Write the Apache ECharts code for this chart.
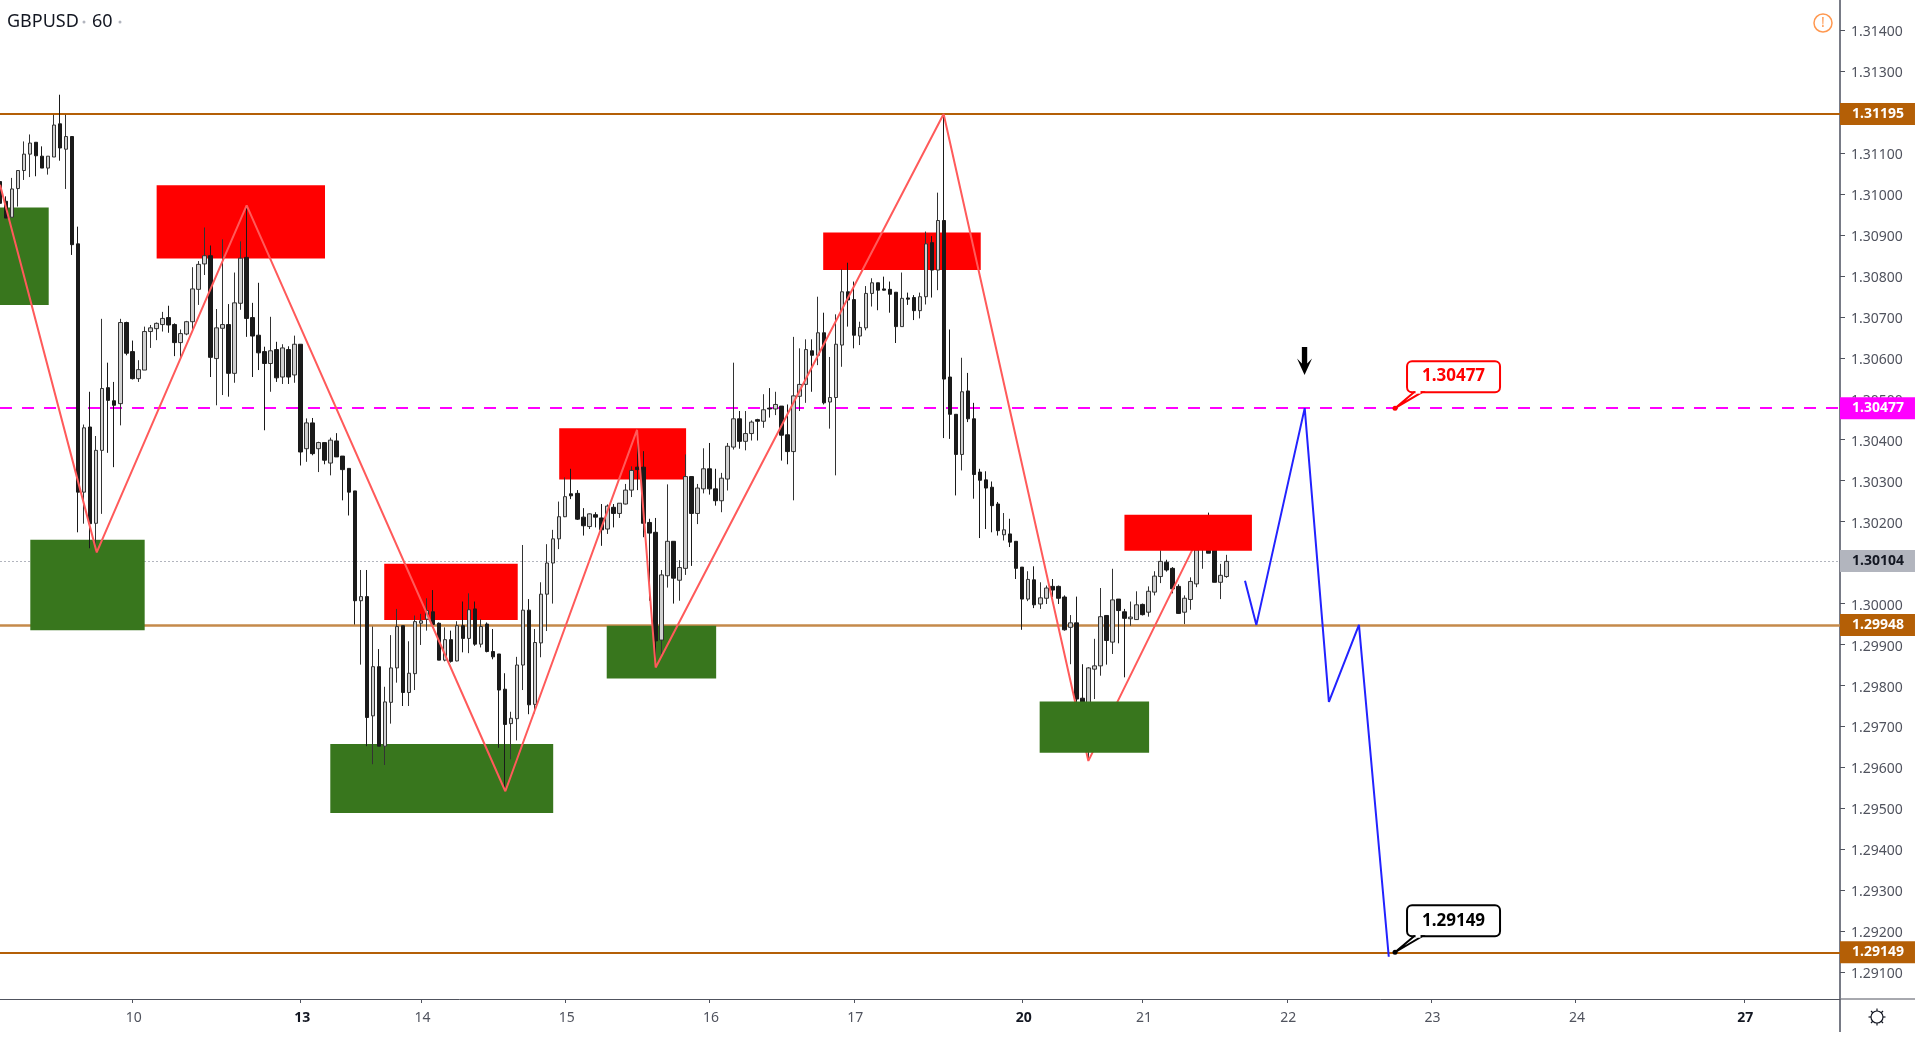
<!DOCTYPE html>
<html>
<head>
<meta charset="utf-8">
<title>GBPUSD 60</title>
<script src="https://cdn.jsdelivr.net/npm/echarts@6/dist/echarts.min.js"></script>
<style>
  html, body { margin: 0; padding: 0; background: #fff; overflow: hidden; }
  #chart { width: 1915px; height: 1039px; }
</style>
</head>
<body>
<div id="chart"></div>
<script>
// hourly candles, in points (1e-5)
var opens = [
  131030,130982,130943,131013,131057,131097,131126,131092,131063,131090,
  131171,131109,131140,130878,130272,130431,130196,130374,130527,130495,
  130488,130686,130615,130549,130570,130664,130671,130681,130698,130681,
  130637,130658,130688,130767,130829,130849,130598,130672,130681,130562,
  130733,130845,130698,130655,130615,130586,130620,130553,130620,130558,
  130633,130378,130441,130378,130393,130343,130397,130360,130330,130275,
  130007,130017,129726,129846,129652,129759,129843,129946,129783,129829,
  129952,129962,129980,129952,129862,129912,129860,129946,129915,129987,
  129901,129950,129883,129877,129791,129707,129719,129850,129984,129754,
  129904,130023,130099,130158,130212,130268,130269,130211,130188,130217,
  130209,130182,130235,130220,130243,130277,130333,130333,130198,130174,
  129911,130068,130152,130057,130086,130310,130220,130280,130329,130280,
  130251,130304,130382,130451,130396,130415,130449,130445,130477,130475,
  130482,130412,130371,130506,130535,130617,130606,130661,130492,130503,
  130631,130761,130742,130653,130673,130757,130783,130768,130767,130760,
  130676,130746,130747,130715,130749,130881,130814,130935,130553,130462,
  130364,130519,130451,130321,130302,130284,130243,130168,130170,130152,
  130089,130011,130058,129999,130013,130042,130042,130016,129942,129953,
  129769,129720,129840,129848,129971,129906,130011,129980,129963,129961,
  129998,129979,130028,130066,130101,130086,130042,129979,130010,130048,
  130140,130190,130140,130052,130066
];
var closes = [
  130977,130941,131012,131057,131097,131124,131093,131063,131092,131168,
  131112,131140,130876,130272,130429,130195,130374,130525,130496,130484,
  130686,130611,130549,130571,130664,130673,130684,130696,130680,130637,
  130659,130688,130768,130828,130849,130601,130673,130681,130562,130734,
  130843,130696,130653,130612,130586,130617,130551,130624,130553,130633,
  130370,130441,130366,130393,130350,130399,130358,130327,130272,130007,
  130017,129722,129846,129652,129760,129843,129944,129783,129830,129956,
  129958,129983,129949,129862,129912,129859,129946,129915,129985,129901,
  129944,129883,129870,129789,129705,129720,129850,129984,129753,129905,
  130023,130099,130158,130212,130261,130263,130206,130190,130219,130211,
  130180,130238,130220,130245,130277,130325,130327,130196,130172,129909,
  130070,130152,130062,130088,130310,130220,130282,130329,130280,130251,
  130306,130384,130451,130396,130415,130443,130445,130473,130475,130486,
  130411,130371,130507,130535,130620,130606,130661,130490,130503,130633,
  130761,130741,130655,130674,130757,130783,130765,130765,130755,130676,
  130745,130743,130715,130749,130878,130814,130935,130548,130462,130364,
  130517,130451,130315,130301,130282,130239,130178,130180,130150,130086,
  130011,130059,129997,130014,130038,130033,130013,129936,129953,129767,
  129745,129843,129848,129968,129910,130009,129983,129964,129967,129997,
  129973,130030,130067,130103,130082,130036,129976,130013,130054,130131,
  130180,130123,130052,130069,130103
];
var lows = [
  130970,130941,130943,130969,131034,131041,131043,131063,131047,131090,
  131081,131012,130851,130174,130195,130135,130125,130219,130368,130333,
  130435,130606,130547,130541,130570,130624,130643,130664,130661,130604,
  130602,130655,130664,130729,130802,130553,130484,130509,130505,130539,
  130717,130651,130553,130570,130423,130517,130541,130536,130536,130539,
  130337,130346,130362,130321,130340,130313,130358,130252,130215,129949,
  129851,129652,129608,129652,129606,129707,129807,129750,129750,129789,
  129899,129934,129949,129862,129859,129856,129859,129881,129879,129897,
  129893,129881,129864,129648,129542,129620,129666,129789,129730,129732,
  129869,129933,130000,130133,130211,130255,130204,130166,130182,130186,
  130141,130170,130186,130209,130242,130260,130277,130162,130007,129845,
  129876,130039,130000,130007,130070,130092,130194,130269,130266,130239,
  130223,130276,130376,130378,130374,130398,130398,130429,130454,130460,
  130349,130340,130252,130470,130490,130517,130582,130486,130427,130313,
  130578,130676,130623,130631,130667,130725,130716,130764,130710,130636,
  130676,130729,130692,130696,130730,130747,130765,130404,130402,130264,
  130325,130443,130256,130160,130182,130174,130166,130154,130138,130060,
  129936,130006,129989,129987,129999,130016,129999,129934,129852,129760,
  129735,129616,129767,129824,129851,129877,129903,129820,129946,129960,
  129971,129968,130020,130050,130078,130025,129975,129950,129985,130040,
  130085,130123,130052,130011,130063
];
var highs = [
  131034,130994,131039,131057,131128,131145,131126,131116,131092,131193,
  131242,131193,131140,130920,130437,130517,130409,130695,130588,130541,
  130695,130688,130642,130594,130676,130680,130686,130712,130727,130684,
  130669,130690,130821,130836,130918,130874,130719,130889,130731,130808,
  130884,130972,130734,130783,130627,130700,130639,130633,130628,130654,
  130633,130452,130453,130395,130393,130405,130416,130360,130330,130275,
  130082,130082,129944,129889,129797,129923,129987,129946,129908,129971,
  129975,130013,130033,129954,129942,129934,129957,130005,130025,130005,
  129962,129954,129938,129877,129830,129736,129870,130143,130011,129938,
  130052,130145,130180,130249,130308,130329,130277,130233,130220,130223,
  130243,130242,130243,130245,130292,130335,130424,130372,130207,130209,
  130082,130291,130152,130106,130364,130310,130292,130379,130392,130329,
  130319,130392,130588,130470,130470,130447,130451,130511,130526,130517,
  130482,130486,130651,130623,130645,130645,130749,130710,130602,130706,
  130816,130832,130786,130688,130775,130794,130783,130798,130786,130760,
  130808,130759,130753,130759,130908,130897,131003,131193,130669,130462,
  130600,130563,130490,130329,130323,130298,130248,130221,130207,130152,
  130089,130079,130091,130052,130044,130060,130044,130020,129972,130017,
  129852,129845,129914,130038,129971,130085,130011,129987,130005,130030,
  130000,130042,130079,130130,130107,130089,130047,130020,130064,130180,
  130200,130222,130140,130097,130119
];

var BAR_COUNT = 307; // slots on the time axis, future included
var dayBars = [22, 50, 70, 94, 118, 142, 170, 190, 214, 238, 262, 290];
var dayLabels = ['10', '13', '14', '15', '16', '17', '20', '21', '22', '23', '24', '27'];
var weekStarts = ['13', '20', '27'];

var priceTicks = [
  1.291, 1.292, 1.293, 1.294, 1.295, 1.296, 1.297, 1.298, 1.299, 1.300, 1.301, 1.302,
  1.303, 1.304, 1.305, 1.306, 1.307, 1.308, 1.309, 1.310, 1.311, 1.312, 1.313, 1.314
];

// [bar from, bar to, price low, price high]
var zonesBelow = [
  [0, 8.1, 1.30729, 1.30967, 'g'],
  [26.05, 54.05, 1.30842, 1.31021, 'r'],
  [5.04, 24.06, 1.29935, 1.30156, 'g'],
  [54.93, 92, 1.29489, 1.29657, 'g'],
  [63.9, 86.1, 1.29960, 1.30097, 'r'],
  [93, 114.1, 1.30303, 1.30428, 'r'],
  [100.9, 119.1, 1.29817, 1.29946, 'g'],
  [136.9, 163.1, 1.30814, 1.30906, 'r']
];
var zonesAbove = [
  [172.9, 191.1, 1.29636, 1.29761, 'g'],
  [187, 208.2, 1.30129, 1.30217, 'r']
];

var zigzag = [
  [0, 1.31022], [16.08, 1.30125], [41.02, 1.30972], [84.04, 1.29542], [105.94, 1.30424],
  [109.04, 1.29844], [156.93, 1.31195], [181, 1.29616], [201.06, 1.30214]
];
var projection = [
  [207.05, 1.30056], [208.94, 1.29948], [216.98, 1.30477], [221, 1.29760], [226, 1.29948], [230.96, 1.29138]
];

var resistanceLevel = 1.31195;
var pivotLevel = 1.29948;
var targetLevel = 1.29149;
var entryLevel = 1.30477;
var lastPrice = 1.30104;

var ZONE_RED = '#ff0000';
var ZONE_GREEN = '#38761d';
var TAG_BROWN = '#b45f06';
var TEXT = '#50535e';
var FONT = '"Noto Sans", sans-serif';

var candles = opens.map(function (o, i) {
  return [o / 1e5, closes[i] / 1e5, lows[i] / 1e5, highs[i] / 1e5];
});

var categories = [];
for (var i = 0; i < BAR_COUNT; i++) {
  var d = dayBars.indexOf(i);
  categories.push(d < 0 ? '' : dayLabels[d]);
}

function zoneData(list) {
  return list.map(function (z) {
    return [{
      coord: [z[0], z[3]],
      itemStyle: { color: z[4] === 'r' ? ZONE_RED : ZONE_GREEN }
    }, {
      coord: [z[1], z[2]]
    }];
  });
}

function levelLine(value, color, width, type, tagColor, tagText) {
  return {
    yAxis: value,
    lineStyle: { color: color, width: width, type: type },
    label: {
      show: true,
      position: 'end',
      distance: 0,
      formatter: value.toFixed(5),
      color: tagText,
      backgroundColor: tagColor,
      fontFamily: FONT,
      fontSize: 14,
      fontWeight: 'bold',
      padding: [5, 11, 3, 12]
    }
  };
}

// little note with a tail: the box hangs off the anchor point
function renderCallout(params, api) {
  var p = api.coord([api.value(0), api.value(1)]);
  var color = api.value(2) === 0 ? '#ff0000' : '#000000';
  var x = p[0], y = p[1];
  return {
    type: 'group',
    children: [
      { type: 'rect', shape: { x: x + 12, y: y - 47, width: 93, height: 31, r: 5 },
        style: { fill: '#fff', stroke: color, lineWidth: 2 } },
      { type: 'polygon', shape: { points: [[x, y], [x + 19, y - 16], [x + 27, y - 16]] },
        style: { fill: '#fff', stroke: color, lineWidth: 2 } },
      { type: 'line', shape: { x1: x + 20.5, y1: y - 16, x2: x + 25.5, y2: y - 16 },
        style: { stroke: '#fff', lineWidth: 3 } },
      { type: 'circle', shape: { cx: x, cy: y, r: 2.5 }, style: { fill: color } },
      { type: 'text', x: x + 58.5, y: y - 31.5,
        style: { text: api.value(1).toFixed(5), fill: color, align: 'center', verticalAlign: 'middle',
          font: 'bold 17px "Noto Sans", sans-serif' } }
    ]
  };
}

var chromeElements = [
  { type: 'text', x: 7, y: 13, style: { text: 'GBPUSD', fill: '#131722', font: '18px "Noto Sans", sans-serif' } },
  { type: 'circle', shape: { cx: 84, cy: 22, r: 1.5 }, style: { fill: '#b2b5be' } },
  { type: 'text', x: 92, y: 13, style: { text: '60', fill: '#131722', font: '18px "Noto Sans", sans-serif' } },
  { type: 'circle', shape: { cx: 120, cy: 22, r: 1.5 }, style: { fill: '#b2b5be' } },
  { type: 'circle', shape: { cx: 1823, cy: 23, r: 9 }, style: { fill: 'none', stroke: '#ff9850', lineWidth: 1.5 } },
  { type: 'text', x: 1823, y: 23, style: { text: '!', fill: '#ff9850', align: 'center', verticalAlign: 'middle', font: '14px "Noto Sans", sans-serif' } },
  { type: 'line', shape: { x1: 1840, y1: 999, x2: 1915, y2: 999 }, style: { stroke: '#50535e', lineWidth: 1 } },
  { type: 'line', shape: { x1: 1840, y1: 999, x2: 1840, y2: 1032 }, style: { stroke: '#787b86', lineWidth: 2 } },
  { type: 'circle', shape: { cx: 1877, cy: 1017, r: 6 }, style: { fill: 'none', stroke: '#131722', lineWidth: 1.2 } }
];
[0, 45, 90, 135, 180, 225, 270, 315].forEach(function (deg) {
  var a = deg * Math.PI / 180;
  chromeElements.push({
    type: 'line',
    shape: {
      x1: 1877 + Math.cos(a) * 6, y1: 1017 + Math.sin(a) * 6,
      x2: 1877 + Math.cos(a) * 8.5, y2: 1017 + Math.sin(a) * 8.5
    },
    style: { stroke: '#131722', lineWidth: 1.2 }
  });
});

var option = {
  animation: false,
  backgroundColor: '#fff',
  tooltip: { show: false },
  grid: { left: 0, right: 75, top: 0, bottom: 40, outerBoundsMode: 'none' },
  graphic: { elements: chromeElements },
  xAxis: [{
    type: 'category',
    data: categories,
    boundaryGap: false,
    axisLine: { onZero: false, lineStyle: { color: '#50535e', width: 1 } },
    axisTick: {
      length: 4,
      lineStyle: { color: '#50535e' },
      interval: function (idx, value) { return value !== ''; }
    },
    axisLabel: {
      interval: 0,
      margin: 12,
      padding: [0, 0, 0, 3],
      color: TEXT,
      fontFamily: FONT,
      fontSize: 14,
      formatter: function (value) {
        if (value === '') return '';
        return weekStarts.indexOf(value) >= 0 ? '{w|' + value + '}' : value;
      },
      rich: { w: { fontWeight: 'bold', color: '#131722', fontFamily: FONT, fontSize: 14 } }
    },
    splitLine: { show: false }
  }, {
    // same pixels as the category axis, lets the drawings sit between bars
    type: 'value',
    min: 0,
    max: BAR_COUNT - 1,
    show: false
  }],
  yAxis: [{
    type: 'value',
    position: 'right',
    min: 1.290349,
    max: 1.314732,
    axisLine: { show: true, onZero: false, lineStyle: { color: '#787b86', width: 2 } },
    axisTick: { show: true, length: 5, customValues: priceTicks, lineStyle: { color: '#50535e' } },
    axisLabel: {
      customValues: priceTicks,
      margin: 11,
      verticalAlign: 'top',
      lineHeight: 4,
      color: TEXT,
      fontFamily: FONT,
      fontSize: 14,
      formatter: function (v) { return v.toFixed(5); }
    },
    splitLine: { show: false }
  }],
  series: [{
    type: 'candlestick',
    name: 'GBPUSD',
    xAxisIndex: 0,
    yAxisIndex: 0,
    z: 2,
    barWidth: 4,
    data: candles,
    itemStyle: {
      color: '#d0d0d0',
      color0: '#1a1a1a',
      borderColor: '#333333',
      borderColor0: '#1a1a1a',
      borderWidth: 1
    }
  }, {
    type: 'line',
    name: 'zigzag',
    xAxisIndex: 1,
    yAxisIndex: 0,
    z: 3,
    data: zigzag,
    showSymbol: false,
    lineStyle: { color: '#ff5a5a', width: 2 },
    markArea: { silent: true, z: 1.5, data: zoneData(zonesBelow) },
    markLine: {
      silent: true,
      z: 1,
      symbol: 'none',
      precision: 5,
      animation: false,
      data: [
        levelLine(resistanceLevel, TAG_BROWN, 2, 'solid', TAG_BROWN, '#fff'),
        levelLine(entryLevel, '#ff00ff', 2, [12, 10], '#ff00ff', '#fff'),
        levelLine(lastPrice, '#b2b5be', 1, [2, 2], '#b2b5be', '#131722'),
        levelLine(pivotLevel, '#c58a4a', 2.5, 'solid', TAG_BROWN, '#fff'),
        levelLine(targetLevel, TAG_BROWN, 2, 'solid', TAG_BROWN, '#fff')
      ]
    }
  }, {
    type: 'line',
    name: 'projection',
    xAxisIndex: 1,
    yAxisIndex: 0,
    z: 3,
    data: projection,
    showSymbol: false,
    lineStyle: { color: '#2222ff', width: 2 },
    markArea: { silent: true, z: 6, data: zoneData(zonesAbove) },
    markPoint: {
      silent: true,
      z: 7,
      symbol: 'path://M4.5,0 H9.5 V13 L14,9 L7,22 L0,9 L4.5,13 Z',
      symbolSize: [15, 28],
      itemStyle: { color: '#000' },
      label: { show: false },
      data: [{ coord: [216.95, 1.30592] }]
    }
  }, {
    type: 'custom',
    name: 'callouts',
    xAxisIndex: 1,
    yAxisIndex: 0,
    z: 8,
    renderItem: renderCallout,
    data: [[232, entryLevel, 0], [232, targetLevel, 1]]
  }]
};

var myChart = echarts.init(document.getElementById('chart'), null, { renderer: 'canvas' });
myChart.setOption(option);
</script>
</body>
</html>
